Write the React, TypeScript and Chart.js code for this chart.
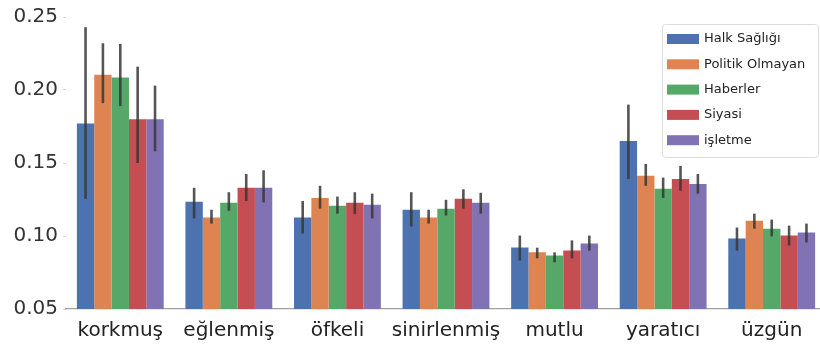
import React, { useEffect, useRef } from "react";
import { Chart, registerables } from "chart.js";

Chart.register(...registerables);

const categories = ["korkmuş", "eğlenmiş", "öfkeli", "sinirlenmiş", "mutlu", "yaratıcı", "üzgün"];
const seriesNames = ["Halk Sağlığı", "Politik Olmayan", "Haberler", "Siyasi", "işletme"];
const seriesColors = ["#4C72B0", "#DD8452", "#55A868", "#C44E52", "#8172B3"];

const halkSagligi = [0.177, 0.1235, 0.1126, 0.118, 0.0922, 0.165, 0.0983];
const halkSagligiLow = [0.1255, 0.112, 0.1017, 0.1065, 0.0833, 0.139, 0.09];
const halkSagligiHigh = [0.243, 0.133, 0.124, 0.13, 0.1003, 0.19, 0.1058];

const politikOlmayan = [0.2105, 0.1126, 0.126, 0.1126, 0.0888, 0.1412, 0.1105];
const politikOlmayanLow = [0.191, 0.1085, 0.1187, 0.1085, 0.0847, 0.1344, 0.105];
const politikOlmayanHigh = [0.232, 0.118, 0.1344, 0.118, 0.092, 0.1493, 0.1153];

const haberler = [0.2085, 0.1228, 0.1207, 0.1187, 0.0867, 0.1323, 0.105];
const haberlerLow = [0.189, 0.1173, 0.1153, 0.114, 0.082, 0.126, 0.0997];
const haberlerHigh = [0.2316, 0.13, 0.127, 0.1248, 0.0888, 0.14, 0.1112];

const siyasi = [0.18, 0.133, 0.1228, 0.1255, 0.09, 0.139, 0.1003];
const siyasiLow = [0.15, 0.124, 0.115, 0.1187, 0.0847, 0.131, 0.0935];
const siyasiHigh = [0.216, 0.1425, 0.13, 0.132, 0.097, 0.148, 0.1071];

const isletme = [0.18, 0.133, 0.1214, 0.1228, 0.0949, 0.1357, 0.1024];
const isletmeLow = [0.158, 0.123, 0.112, 0.1153, 0.09, 0.129, 0.0956];
const isletmeHigh = [0.203, 0.145, 0.129, 0.1296, 0.1003, 0.1425, 0.1085];

const yTicks = [0.05, 0.1, 0.15, 0.2, 0.25];

const seriesValues = [halkSagligi, politikOlmayan, haberler, siyasi, isletme];
const seriesLow = [halkSagligiLow, politikOlmayanLow, haberlerLow, siyasiLow, isletmeLow];
const seriesHigh = [halkSagligiHigh, politikOlmayanHigh, haberlerHigh, siyasiHigh, isletmeHigh];

const FONT = "'DejaVu Sans', sans-serif";

// Vertical confidence-interval lines over each bar
const errorBarPlugin = {
  id: "errorBars",
  afterDatasetsDraw(chart: any) {
    const { ctx, scales } = chart;
    const y = scales.y;
    ctx.save();
    ctx.strokeStyle = "rgba(55,55,55,0.85)";
    ctx.lineWidth = 2.6;
    chart.data.datasets.forEach((ds: any, i: number) => {
      const meta = chart.getDatasetMeta(i);
      meta.data.forEach((bar: any, j: number) => {
        const lo = ds.errLow[j];
        const hi = ds.errHigh[j];
        ctx.beginPath();
        ctx.moveTo(bar.x, y.getPixelForValue(lo));
        ctx.lineTo(bar.x, y.getPixelForValue(hi));
        ctx.stroke();
      });
    });
    ctx.restore();
  },
};

// Legend box drawn inside the plot, top right
const insideLegendPlugin = {
  id: "insideLegend",
  afterDraw(chart: any) {
    const { ctx, chartArea } = chart;
    const left = 662;
    const top = chartArea.top + 7;
    const w = 156;
    const h = 133;
    ctx.save();
    ctx.fillStyle = "rgba(255,255,255,0.85)";
    ctx.strokeStyle = "#dddddd";
    ctx.lineWidth = 1;
    ctx.beginPath();
    (ctx as any).roundRect(left + 0.5, top + 0.5, w, h, 3);
    ctx.fill();
    ctx.stroke();
    ctx.font = `13px ${FONT}`;
    ctx.textBaseline = "middle";
    ctx.textAlign = "left";
    chart.data.datasets.forEach((ds: any, i: number) => {
      const cy = top + 15 + i * 25.3;
      ctx.fillStyle = ds.backgroundColor;
      ctx.fillRect(left + 5, cy - 5, 32, 10);
      ctx.fillStyle = "#222222";
      ctx.fillText(ds.label, left + 42, cy);
    });
    ctx.restore();
  },
};

export default function App() {
  const canvasRef = useRef<HTMLCanvasElement | null>(null);

  useEffect(() => {
    if (!canvasRef.current) return;
    const chart = new Chart(canvasRef.current, {
      type: "bar",
      data: {
        labels: categories,
        datasets: seriesNames.map((name, i) => ({
          label: name,
          data: seriesValues[i],
          errLow: seriesLow[i],
          errHigh: seriesHigh[i],
          backgroundColor: seriesColors[i],
          borderWidth: 0,
          categoryPercentage: 0.8,
          barPercentage: 1.0,
        })) as any,
      },
      options: {
        animation: false,
        responsive: false,
        maintainAspectRatio: false,
        layout: { padding: { top: 15, left: 0, right: 0, bottom: 0 } },
        plugins: {
          legend: { display: false },
          tooltip: { enabled: false },
        },
        scales: {
          x: {
            grid: { display: false },
            border: { display: true, color: "#a0a0a0", width: 1.2 },
            ticks: {
              color: "#222222",
              font: { family: FONT, size: 20 },
              padding: 2,
              maxRotation: 0,
              autoSkip: false,
            },
            afterFit(scale: any) {
              scale.height = 35;
            },
          },
          y: {
            min: 0.05,
            max: 0.25,
            afterBuildTicks(scale: any) {
              scale.ticks = yTicks.map((v) => ({ value: v }));
            },
            grid: {
              display: true,
              drawOnChartArea: false,
              drawTicks: true,
              tickLength: 3,
              color: "#d8d8d8",
            },
            border: { display: false },
            ticks: {
              color: "#333333",
              font: { family: FONT, size: 20 },
              padding: 5,
              callback: (v: any) => Number(v).toFixed(2),
            },
            afterFit(scale: any) {
              scale.width = 66;
            },
          },
        },
      },
      plugins: [errorBarPlugin, insideLegendPlugin],
    });
    return () => chart.destroy();
  }, []);

  return (
    <div
      style={{
        position: "fixed",
        left: 0,
        top: 0,
        width: 820,
        height: 344,
        overflow: "hidden",
        background: "#ffffff",
      }}
    >
      <canvas ref={canvasRef} width={826} height={344} style={{ display: "block" }} />
    </div>
  );
}
